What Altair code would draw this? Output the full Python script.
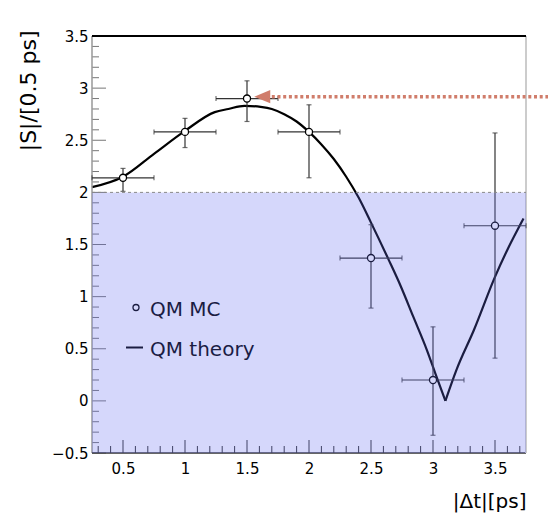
import altair as alt
import pandas as pd

# ---------------- data ----------------
mc_x = [0.5, 1.0, 1.5, 2.0, 2.5, 3.0, 3.5]
mc_y = [2.14, 2.58, 2.90, 2.58, 1.37, 0.20, 1.68]
mc_y_hi = [2.23, 2.71, 3.07, 2.84, 1.69, 0.71, 2.57]
mc_y_lo = [2.01, 2.43, 2.68, 2.14, 0.89, -0.33, 0.41]
mc_x_err = [0.25, 0.25, 0.25, 0.25, 0.25, 0.25, 0.25]

# theory curve, falling branch (up to the cusp) and rising branch (from the cusp)
theory_x_a = [0.25, 0.50, 0.75, 1.00, 1.24, 1.35, 1.48, 1.61, 1.70, 1.80, 1.90,
              2.00, 2.10, 2.20, 2.30, 2.40, 2.50, 2.64, 2.74, 2.84, 2.95, 3.02, 3.10]
theory_y_a = [2.05, 2.15, 2.37, 2.59, 2.77, 2.80, 2.83, 2.82, 2.80, 2.75, 2.68,
              2.58, 2.46, 2.32, 2.15, 1.95, 1.71, 1.36, 1.10, 0.81, 0.49, 0.26, 0.00]
theory_x_b = [3.10, 3.19, 3.33, 3.50, 3.60, 3.73]
theory_y_b = [0.00, 0.30, 0.68, 1.19, 1.45, 1.75]

legend_labels = ["QM MC", "QM theory"]
x_title = "|Δt|[ps]"
y_title = "|S|/[0.5 ps]"

x_domain = [0.25, 3.75]
y_domain = [-0.5, 3.5]
band = [-0.5, 2.0]          # shaded region
arrow_y = 2.918             # arrow level
arrow_tip_x = 1.623
arrow_line = [1.70, 3.95]

y_major = [-0.5, 0.0, 0.5, 1.0, 1.5, 2.0, 2.5, 3.0, 3.5]
y_minor = [round(-0.5 + 0.1 * i, 2) for i in range(41) if i % 5 != 0]
x_major = [0.5, 1.0, 1.5, 2.0, 2.5, 3.0, 3.5]
x_minor = [round(0.3 + 0.1 * i, 2) for i in range(35) if (i + 3) % 5 != 0]

# ---------------- layout ----------------
W, H = 434, 417
FONT = "DejaVu Sans"
xs = alt.Scale(domain=x_domain, nice=False, zero=False)
ys = alt.Scale(domain=y_domain, nice=False, zero=False)

mc = pd.DataFrame({
    "x": mc_x, "y": mc_y, "ylo": mc_y_lo, "yhi": mc_y_hi,
    "xlo": [a - e for a, e in zip(mc_x, mc_x_err)],
    "xhi": [a + e for a, e in zip(mc_x, mc_x_err)],
})
th = pd.DataFrame({
    "t": theory_x_a + theory_x_b,
    "s": theory_y_a + theory_y_b,
    "seg": ["a"] * len(theory_x_a) + ["b"] * len(theory_x_b),
})

X0 = lambda f: alt.X(f, type="quantitative", scale=xs)
Y0 = lambda f: alt.Y(f, type="quantitative", scale=ys)

# ticks (inside)
ytM = alt.Chart(pd.DataFrame({"v": y_major})).mark_rule(color="#777", strokeWidth=1).encode(
    y=Y0("v"), x=alt.value(0), x2=alt.value(14))
ytm = alt.Chart(pd.DataFrame({"v": y_minor})).mark_rule(color="#777", strokeWidth=1).encode(
    y=Y0("v"), x=alt.value(0), x2=alt.value(7))
xtM = alt.Chart(pd.DataFrame({"v": x_major})).mark_rule(color="#333", strokeWidth=1).encode(
    x=X0("v"), y=alt.value(H), y2=alt.value(H - 13))
xtm = alt.Chart(pd.DataFrame({"v": x_minor})).mark_rule(color="#333", strokeWidth=1).encode(
    x=X0("v"), y=alt.value(H), y2=alt.value(H - 7))

# frame
left = alt.Chart(pd.DataFrame({"x": [x_domain[0]], "y1": [y_domain[0]], "y2": [y_domain[1]]})).mark_rule(
    color="#999", strokeWidth=1.5).encode(x=X0("x"), y=Y0("y1"), y2="y2")
right = alt.Chart(pd.DataFrame({"x": [x_domain[1]], "y1": [y_domain[0]], "y2": [y_domain[1]]})).mark_rule(
    color="#cccccc", strokeWidth=2).encode(x=X0("x"), y=Y0("y1"), y2="y2")
bottom = alt.Chart(pd.DataFrame({"y": [y_domain[0]], "x1": [x_domain[0]], "x2": [x_domain[1]]})).mark_rule(
    color="#333", strokeWidth=1.5).encode(y=Y0("y"), x=X0("x1"), x2="x2")
top = alt.Chart(pd.DataFrame({"y": [y_domain[1]], "x1": [x_domain[0]], "x2": [x_domain[1]]})).mark_rule(
    color="black", strokeWidth=2).encode(y=Y0("y"), x=X0("x1"), x2="x2")

# theory curve with axes (labels only)
curve = alt.Chart(th).mark_line(color="black", strokeWidth=2.2, interpolate="monotone").encode(
    x=alt.X("t:Q", scale=xs, axis=alt.Axis(
        values=x_major, format="~g", ticks=False, tickSize=0, domain=False, grid=False,
        labelPadding=8, labelFontSize=15, labelFont=FONT, labelColor="black", labelAngle=0,
        labelFlush=False, labelOverlap=False, labelBound=False,
        title=x_title, titleX=W, titleY=48, titleAlign="right", titleBaseline="middle",
        titleFontSize=20, titleFont=FONT, titleFontWeight="normal", titleColor="black")),
    y=alt.Y("s:Q", scale=ys, axis=alt.Axis(
        values=y_major, format="~g", ticks=False, tickSize=0, domain=False, grid=False,
        labelPadding=4, labelFontSize=15, labelFont=FONT, labelColor="black",
        labelFlush=False, labelOverlap=False, labelBound=False,
        title=y_title, titleAngle=270, titleX=-63.5, titleY=-6, titleAlign="right",
        titleBaseline="middle", titleFontSize=22, titleFont=FONT, titleFontWeight="normal",
        titleColor="black")),
    detail="seg:N",
)

EB = "#333333"
vbar = alt.Chart(mc).mark_rule(color=EB, strokeWidth=1.2).encode(x=X0("x"), y=Y0("ylo"), y2="yhi")
hbar = alt.Chart(mc).mark_rule(color=EB, strokeWidth=1.2).encode(y=Y0("y"), x=X0("xlo"), x2="xhi")
cap_lo = alt.Chart(mc).mark_tick(color=EB, orient="horizontal", size=5, thickness=1.2).encode(x=X0("x"), y=Y0("ylo"))
cap_hi = alt.Chart(mc).mark_tick(color=EB, orient="horizontal", size=5, thickness=1.2).encode(x=X0("x"), y=Y0("yhi"))
cap_l = alt.Chart(mc).mark_tick(color=EB, orient="vertical", size=5, thickness=1.2).encode(x=X0("xlo"), y=Y0("y"))
cap_r = alt.Chart(mc).mark_tick(color=EB, orient="vertical", size=5, thickness=1.2).encode(x=X0("xhi"), y=Y0("y"))
pts = alt.Chart(mc).mark_point(shape="circle", filled=True, fill="white", stroke="black",
                               strokeWidth=1.3, size=50, opacity=1).encode(x=X0("x"), y=Y0("y"))

# legend
one = pd.DataFrame({"a": [0]})
leg_pt = alt.Chart(one).mark_point(shape="circle", filled=True, fill="white", stroke="black",
                                   strokeWidth=1.3, size=36, opacity=1).encode(
    x=alt.value(44), y=alt.value(271.5))
leg_t1 = alt.Chart(one).mark_text(text=legend_labels[0], align="left", baseline="middle",
                                  fontSize=20, font=FONT, color="black").encode(
    x=alt.value(58), y=alt.value(274))
leg_ln = alt.Chart(one).mark_rule(color="black", strokeWidth=2).encode(
    x=alt.value(34), x2=alt.value(51), y=alt.value(311.5))
leg_t2 = alt.Chart(one).mark_text(text=legend_labels[1], align="left", baseline="middle",
                                  fontSize=20, font=FONT, color="black").encode(
    x=alt.value(58), y=alt.value(314))

# shaded band (overlay)
band_df = pd.DataFrame({"x1": [x_domain[0]], "x2": [x_domain[1]], "y1": [band[0]], "y2": [band[1]]})
shade = alt.Chart(band_df).mark_rect(fill="#646bf1", opacity=0.27).encode(
    x=X0("x1"), x2="x2", y=Y0("y1"), y2="y2")
dash = alt.Chart(band_df).mark_rule(color="#888", strokeWidth=1, strokeDash=[3, 3]).encode(
    x=X0("x1"), x2="x2", y=Y0("y2"))

# arrow
ARW = "#d07d6b"
arr_df = pd.DataFrame({"x1": [arrow_line[0]], "x2": [arrow_line[1]], "y": [arrow_y], "tip": [arrow_tip_x]})
arr_line = alt.Chart(arr_df).mark_rule(color=ARW, strokeWidth=3.5, strokeDash=[3, 2.7]).encode(
    x=X0("x1"), x2="x2", y=Y0("y"))
arr_head = alt.Chart(arr_df).mark_point(shape="M -1 0 L 1 -0.82 L 1 0.82 Z", size=256, filled=True,
                                        fill=ARW, strokeWidth=0, opacity=1).encode(
    x=X0("tip"), y=Y0("y"))

chart = alt.layer(
    curve, ytm, ytM, xtm, xtM, left, bottom, right,
    vbar, hbar, cap_lo, cap_hi, cap_l, cap_r, pts,
    leg_pt, leg_t1, leg_ln, leg_t2,
    shade, dash, top, arr_line, arr_head,
).properties(
    width=W, height=H,
    autosize=alt.AutoSizeParams(type="none"),
    padding={"left": 84, "top": 28, "right": 22, "bottom": 70},
    background="white",
).configure_view(stroke=None)

chart.save("out.html", embed_options={"renderer": "svg", "actions": False})
